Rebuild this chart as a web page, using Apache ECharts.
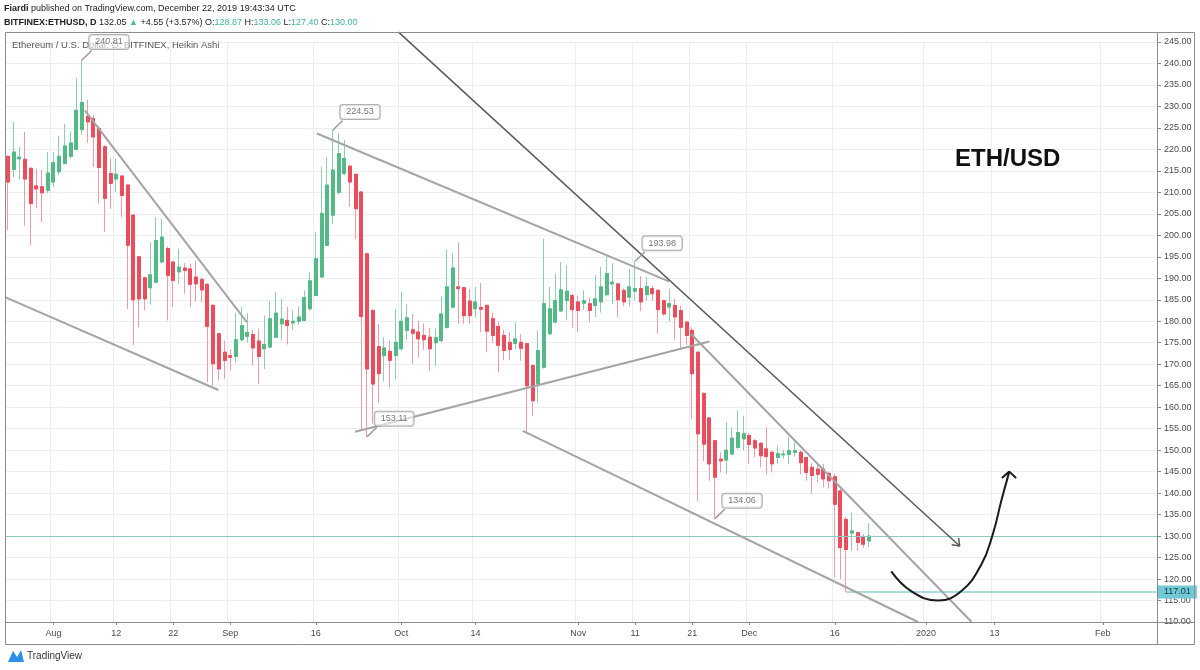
<!DOCTYPE html>
<html>
<head>
<meta charset="utf-8">
<script src="https://cdn.jsdelivr.net/npm/echarts@6/dist/echarts.min.js"></script>
<style>
  html, body { margin: 0; padding: 0; background: #fff; }
  #chart { width: 1200px; height: 670px; }
</style>
</head>
<body>
<div id="chart"></div>
<script>
// daily Heikin Ashi candles, 2019-07-24 .. 2019-12-22
var startDate = '2019-07-24';
var dayCount = 202; // axis runs on to 2020-02-10

var opens = [
  218.4, 215.3, 217.8, 217.7, 215.6, 211.5, 211.3, 210.5, 212.4, 214.8,
  216.7, 218.4, 220.0, 224.6, 227.7, 227.2, 224.9, 220.6, 214.4, 213.1,
  213.8, 211.7, 204.7, 195.0, 190.1, 187.8, 189.1, 193.8, 196.9, 193.8,
  191.5, 192.4, 192.2, 190.3, 189.7, 188.6, 183.7, 177.1, 172.8, 172.0,
  171.8, 175.7, 176.5, 176.9, 175.4, 173.6, 174.0, 176.3, 179.4, 180.2,
  179.6, 180.0, 180.2, 182.9, 186.0, 190.3, 197.7, 204.7, 210.0, 214.4,
  216.1, 214.2, 210.1, 195.7, 182.5, 174.1, 172.0, 173.0, 172.0, 173.6,
  177.9, 178.0, 177.5, 176.7, 176.3, 175.0, 175.5, 178.6, 183.3, 188.0,
  187.8, 184.7, 182.9, 183.2, 183.7, 180.6, 178.8, 176.7, 175.1, 174.8,
  175.1, 174.8, 169.7, 165.4, 169.3, 177.1, 179.8, 182.4, 184.8, 186.0,
  184.5, 184.2, 184.1, 183.7, 184.5, 186.2, 188.7, 188.7, 187.2, 185.6,
  187.0, 187.6, 186.2, 187.6, 187.2, 184.8, 183.3, 183.7, 182.5, 179.8,
  177.9, 172.8, 163.2, 157.5, 152.2, 147.9, 147.7, 149.1, 150.6, 152.6,
  153.4, 152.2, 151.6, 150.3, 149.5, 148.3, 148.9, 149.0, 149.5, 149.5,
  148.3, 146.0, 145.6, 145.6, 144.6, 143.8, 140.5, 133.9, 130.7, 130.8,
  129.7, 128.87
];
var closes = [
  212.4, 219.4, 218.2, 213.1, 207.4, 210.8, 209.9, 214.5, 216.9, 218.4,
  220.8, 221.5, 229.1, 230.9, 226.4, 222.9, 215.8, 208.6, 212.1, 214.2,
  209.3, 197.7, 185.0, 185.2, 185.2, 190.8, 198.8, 199.6, 190.7, 189.5,
  192.6, 191.8, 188.6, 188.7, 187.3, 178.8, 170.1, 168.9, 170.9, 171.6,
  175.7, 179.0, 177.4, 173.8, 171.8, 174.6, 180.6, 181.9, 180.5, 179.0,
  180.0, 181.0, 185.5, 189.4, 194.6, 205.1, 211.7, 215.2, 219.0, 217.9,
  212.4, 206.2, 181.1, 168.9, 165.4, 167.8, 173.8, 170.9, 175.1, 180.0,
  180.8, 177.2, 175.9, 175.7, 173.6, 176.2, 181.7, 188.0, 192.4, 187.6,
  181.3, 181.3, 184.5, 182.8, 177.7, 176.7, 174.4, 173.2, 173.4, 175.9,
  173.7, 165.0, 161.5, 173.2, 184.1, 182.9, 184.8, 187.3, 187.0, 182.7,
  182.5, 184.8, 182.5, 185.2, 188.0, 191.1, 189.1, 185.0, 184.5, 188.0,
  187.6, 184.5, 188.1, 186.4, 182.7, 181.7, 184.1, 181.0, 178.6, 176.7,
  167.8, 153.8, 151.4, 146.8, 143.7, 147.5, 150.0, 152.8, 154.1, 153.8,
  151.3, 150.5, 148.7, 148.5, 146.8, 149.2, 149.1, 149.9, 149.9, 147.1,
  144.8, 144.1, 144.4, 143.3, 142.9, 137.4, 127.3, 126.9, 131.2, 128.5,
  128.1, 130.00
];
var lows = [
  201.2, 213.6, 213.0, 202.3, 197.7, 206.3, 203.1, 209.8, 211.3, 214.0,
  216.5, 218.0, 219.8, 223.3, 221.5, 215.9, 207.4, 200.8, 206.2, 210.1,
  204.3, 182.9, 174.4, 178.6, 182.5, 183.9, 188.9, 193.5, 180.2, 183.3,
  188.7, 186.4, 183.3, 184.5, 184.5, 165.8, 165.0, 166.2, 166.6, 168.5,
  170.5, 175.3, 175.0, 169.7, 165.4, 168.9, 173.8, 176.0, 175.5, 174.6,
  178.0, 179.2, 180.0, 182.5, 185.8, 190.0, 197.5, 202.6, 209.5, 214.0,
  206.6, 199.2, 154.5, 153.11, 156.2, 161.1, 166.0, 164.6, 166.5, 173.2,
  175.7, 170.1, 171.5, 173.3, 168.5, 169.5, 175.2, 178.3, 183.0, 179.4,
  179.4, 179.4, 180.8, 177.5, 172.8, 175.0, 168.1, 170.9, 170.9, 173.5,
  170.8, 153.8, 158.0, 161.1, 169.0, 176.8, 179.5, 182.2, 180.2, 178.5,
  177.5, 182.6, 179.8, 181.0, 182.0, 185.8, 184.0, 181.0, 183.5, 183.5,
  184.8, 182.4, 184.8, 184.8, 177.1, 181.3, 180.0, 175.7, 173.6, 174.5,
  157.3, 138.2, 147.5, 142.9, 134.06, 144.8, 144.4, 148.8, 150.3, 150.0,
  146.8, 148.3, 146.0, 144.4, 144.8, 146.8, 148.0, 146.8, 148.5, 144.4,
  142.9, 139.8, 142.5, 141.3, 141.0, 120.3, 120.0, 117.01, 126.6, 126.6,
  127.3, 127.40
];
var highs = [
  218.6, 226.4, 220.6, 224.1, 215.8, 215.4, 215.3, 219.4, 219.4, 223.1,
  226.0, 224.2, 236.5, 240.81, 231.6, 228.0, 225.5, 221.0, 217.9, 217.9,
  214.0, 212.0, 205.0, 195.2, 190.4, 198.4, 204.3, 203.8, 197.4, 194.0,
  196.9, 193.5, 193.4, 194.0, 190.2, 188.8, 184.0, 177.3, 175.5, 173.5,
  181.9, 183.3, 181.9, 178.0, 178.3, 181.3, 184.8, 186.8, 185.2, 183.3,
  182.5, 183.5, 187.2, 191.4, 200.8, 215.9, 218.3, 224.53, 223.7, 222.2,
  216.4, 214.5, 210.3, 196.0, 182.8, 179.4, 176.3, 175.6, 182.9, 186.8,
  184.0, 181.7, 180.2, 179.5, 178.5, 178.3, 185.8, 196.7, 195.7, 198.4,
  188.0, 187.5, 188.0, 188.9, 183.9, 182.0, 180.0, 178.0, 177.5, 179.8,
  177.0, 175.0, 170.0, 177.8, 199.2, 188.0, 191.1, 193.8, 193.0, 186.3,
  186.0, 187.2, 185.5, 190.7, 192.6, 195.1, 193.5, 188.9, 187.6, 192.2,
  193.98, 190.5, 190.3, 188.2, 187.4, 185.0, 187.6, 185.2, 183.6, 180.0,
  178.6, 173.0, 163.4, 157.7, 152.4, 149.5, 156.5, 155.3, 159.2, 158.0,
  154.0, 152.6, 151.8, 155.3, 149.9, 151.0, 150.0, 153.0, 151.8, 150.0,
  148.5, 147.0, 147.0, 146.8, 145.0, 144.5, 141.0, 134.5, 135.5, 131.0,
  130.5, 133.06
];

// time axis labels
var tickDates = ['2019-08-01', '2019-08-12', '2019-08-22', '2019-09-01', '2019-09-16',
  '2019-10-01', '2019-10-14', '2019-11-01', '2019-11-11', '2019-11-21',
  '2019-12-01', '2019-12-16', '2020-01-01', '2020-01-13', '2020-02-01'];
var tickTexts = ['Aug', '12', '22', 'Sep', '16', 'Oct', '14', 'Nov', '11', '21',
  'Dec', '16', '2020', '13', 'Feb'];

// header quote (real close, not heikin ashi)
var quoteLast = '132.05';
var quoteChange = '+4.55 (+3.57%)';
var lastPrice = 130.00;

// drawings, [day index, price]
var noteIdx = [13, 57, 110, 63, 124];
var noteKind = ['high', 'high', 'high', 'low', 'low'];
var trendLines = [
  [[13.5, 229.1], [41.9, 179.8]],
  [[-0.5, 185.6], [36.9, 164.0]],
  [[54.2, 223.7], [115.9, 189.3]],
  [[60.9, 154.3], [123.0, 175.3]],
  [[90.3, 154.5], [159.6, 110.0]],
  [[119.8, 177.05], [169.0, 110.0]]
];
var bigLine = [[68.5, 247.3], [166.9, 127.7]];
var bigLineHead = [[165.5, 128.0], [166.9, 127.7], [166.7, 129.6]];
var curvePath = [[154.9, 121.8], [158.4, 117.2], [163.1, 115.0], [167.2, 117.2],
  [170.7, 123.4], [172.7, 130.4], [174.2, 138.2], [175.6, 145.0]];
var curveHead = [[174.3, 143.5], [175.6, 145.0], [176.8, 143.5]];
var lowLineFrom = 147;

var fontFam = 'Liberation Sans';
var upColor = '#53b987', downColor = '#eb4d5c';
var upWick = '#8ccfae', downWick = '#f09aa3';

function pad(n) { return n < 10 ? '0' + n : '' + n; }
var dates = [];
var d0 = new Date(startDate + 'T00:00:00Z');
for (var k = 0; k < dayCount; k++) {
  var dt = new Date(d0.getTime() + k * 86400000);
  dates.push(dt.getUTCFullYear() + '-' + pad(dt.getUTCMonth() + 1) + '-' + pad(dt.getUTCDate()));
}
function isTick(idx, val) { return tickDates.indexOf(val) >= 0; }

var wickData = [], bodyData = [];
for (var i = 0; i < opens.length; i++) {
  wickData.push([opens[i], closes[i], lows[i], highs[i]]);
  bodyData.push([opens[i], closes[i], Math.min(opens[i], closes[i]), Math.max(opens[i], closes[i])]);
}

var grayLine = { color: '#a4a4a4', width: 2 };
var darkLine = { color: '#5a5a5a', width: 1.5 };
var blackLine = { color: '#1a1a1a', width: 2 };

function drawing(points, style, smooth) {
  return {
    type: 'line', xAxisIndex: 1, yAxisIndex: 0, data: points,
    symbol: 'none', smooth: smooth || false, clip: false, silent: true,
    lineStyle: style, z: 5, animation: false
  };
}

var series = [
  {
    type: 'candlestick', xAxisIndex: 0, yAxisIndex: 0, data: wickData, barWidth: 3.5,
    itemStyle: { color: upWick, color0: downWick, borderColor: upWick, borderColor0: downWick, borderWidth: 1 },
    markLine: {
      symbol: 'none', silent: true, label: { show: false },
      lineStyle: { color: '#8ec8c2', width: 1, type: 'solid' },
      data: [{ yAxis: lastPrice }]
    }
  },
  {
    type: 'candlestick', xAxisIndex: 0, yAxisIndex: 0, data: bodyData, barWidth: 3.5,
    itemStyle: { color: upColor, color0: downColor, borderColor: upColor, borderColor0: downColor, borderWidth: 1 }
  }
];

trendLines.forEach(function (seg) { series.push(drawing(seg, grayLine)); });
series.push(drawing(bigLine, darkLine));
series.push(drawing(bigLineHead, darkLine));
series.push(drawing(curvePath, blackLine, 0.45));
series.push(drawing(curveHead, blackLine));

// low price line with its axis badge
var lowVal = Math.min.apply(null, lows);
series[series.length - 1].markLine = {
  symbol: 'none', silent: true,
  lineStyle: { color: '#a9dbe3', width: 2, type: 'solid' },
  label: {
    show: true, position: 'end', distance: 1, formatter: lowVal.toFixed(2),
    backgroundColor: '#72c8d4', color: '#0f3d46', fontSize: 9, fontFamily: fontFam,
    padding: [2, 6, 2, 6]
  },
  data: [[{ coord: [lowLineFrom, lowVal] }, { coord: [dayCount - 0.5, lowVal] }]]
};

// price notes
var notePts = [];
noteIdx.forEach(function (ix, n) {
  var v = noteKind[n] === 'high' ? highs[ix] : lows[ix];
  notePts.push({ value: [ix, v], label: { formatter: v.toFixed(2) } });
  series.push(drawing([[ix, v], [ix + 1.7, v + 2.2]], { color: '#9a9a9a', width: 1.5 }));
});
series.push({
  type: 'scatter', xAxisIndex: 1, yAxisIndex: 0, data: notePts, symbolSize: 1,
  itemStyle: { color: '#9a9a9a' }, z: 6, clip: false, silent: true,
  label: {
    show: true, position: 'inside', offset: [27, -18],
    fontSize: 9, fontFamily: fontFam, color: '#555',
    backgroundColor: 'rgba(255,255,255,0.75)', borderColor: '#9e9e9e', borderWidth: 1,
    borderRadius: 3, padding: [3, 6, 2, 6]
  }
});

var last = opens.length - 1;
var headerLine2 = '{b|BITFINEX:ETHUSD, D} ' + quoteLast + ' {g|\u25B2} ' + quoteChange +
  ' O:{v|' + opens[last].toFixed(2) + '} H:{v|' + highs[last].toFixed(2) +
  '} L:{v|' + lows[last].toFixed(2) + '} C:{v|' + closes[last].toFixed(2) + '}';

var myChart = echarts.init(document.getElementById('chart'));

var option = {
  backgroundColor: '#fff',
  animation: false,
  grid: { left: 5, right: 43, top: 42, bottom: 48 },
  xAxis: [
    {
      type: 'category', data: dates, boundaryGap: true,
      axisLine: { show: false, onZero: false },
      axisTick: { show: true, interval: isTick, alignWithLabel: true, length: 3, lineStyle: { color: '#888' } },
      axisLabel: {
        interval: isTick, margin: 7, fontSize: 9, color: '#4a4a4a', fontFamily: fontFam,
        formatter: function (v) { return tickTexts[tickDates.indexOf(v)]; }
      },
      splitLine: { show: true, interval: isTick, lineStyle: { color: '#eaeef2' } }
    },
    { type: 'value', min: -0.5, max: dayCount - 0.5, show: false }
  ],
  yAxis: {
    type: 'value', position: 'right', min: 110, max: 245, interval: 5,
    axisLine: { show: false, onZero: false },
    axisTick: { show: true, length: 4, lineStyle: { color: '#888' } },
    axisLabel: {
      margin: 7, fontSize: 9, color: '#4a4a4a', fontFamily: fontFam,
      formatter: function (v) { return v.toFixed(2); }
    },
    splitLine: { lineStyle: { color: '#eaeef2' } }
  },
  graphic: [
    { type: 'rect', shape: { x: 5.5, y: 32.5, width: 1189, height: 612 }, style: { fill: 'none', stroke: '#8c8c8c', lineWidth: 1 }, z: 10, silent: true },
    { type: 'line', shape: { x1: 1157.5, y1: 32, x2: 1157.5, y2: 645 }, style: { stroke: '#8c8c8c', lineWidth: 1 }, z: 10, silent: true },
    { type: 'line', shape: { x1: 5, y1: 622.5, x2: 1195, y2: 622.5 }, style: { stroke: '#8c8c8c', lineWidth: 1 }, z: 10, silent: true },
    {
      type: 'text', left: 4, top: 4, silent: true,
      style: {
        text: '{b|Fiardi} published on TradingView.com, December 22, 2019 19:43:34 UTC',
        fill: '#222', fontSize: 9, fontFamily: fontFam,
        rich: { b: { fontWeight: 'bold', fontSize: 9, fontFamily: fontFam } }
      }
    },
    {
      type: 'text', left: 4, top: 18, silent: true,
      style: {
        text: headerLine2, fill: '#222', fontSize: 9, fontFamily: fontFam,
        rich: {
          b: { fontWeight: 'bold', fontSize: 9, fontFamily: fontFam },
          g: { fill: upColor, color: upColor, fontSize: 9, fontFamily: fontFam },
          v: { fill: '#3fb3a4', color: '#3fb3a4', fontSize: 9, fontFamily: fontFam }
        }
      }
    },
    {
      type: 'text', left: 12, top: 40, silent: true, z: 1,
      style: { text: 'Ethereum / U.S. Dollar, D, BITFINEX, Heikin Ashi', fill: '#555', fontSize: 9.5, fontFamily: fontFam }
    },
    {
      type: 'text', left: 955, top: 147, silent: true, z: 100,
      style: { text: 'ETH/USD', fill: '#111', fontSize: 24, fontWeight: 'bold', fontFamily: fontFam }
    },
    {
      type: 'polygon', silent: true,
      shape: { points: [[8, 662], [13, 651], [17, 657], [21, 650], [24, 662]] },
      style: { fill: '#2e8fe6' }
    },
    {
      type: 'text', left: 27, top: 651, silent: true,
      style: { text: 'TradingView', fill: '#333', fontSize: 10, fontFamily: fontFam }
    }
  ],
  series: series
};

myChart.setOption(option);
</script>
</body>
</html>
